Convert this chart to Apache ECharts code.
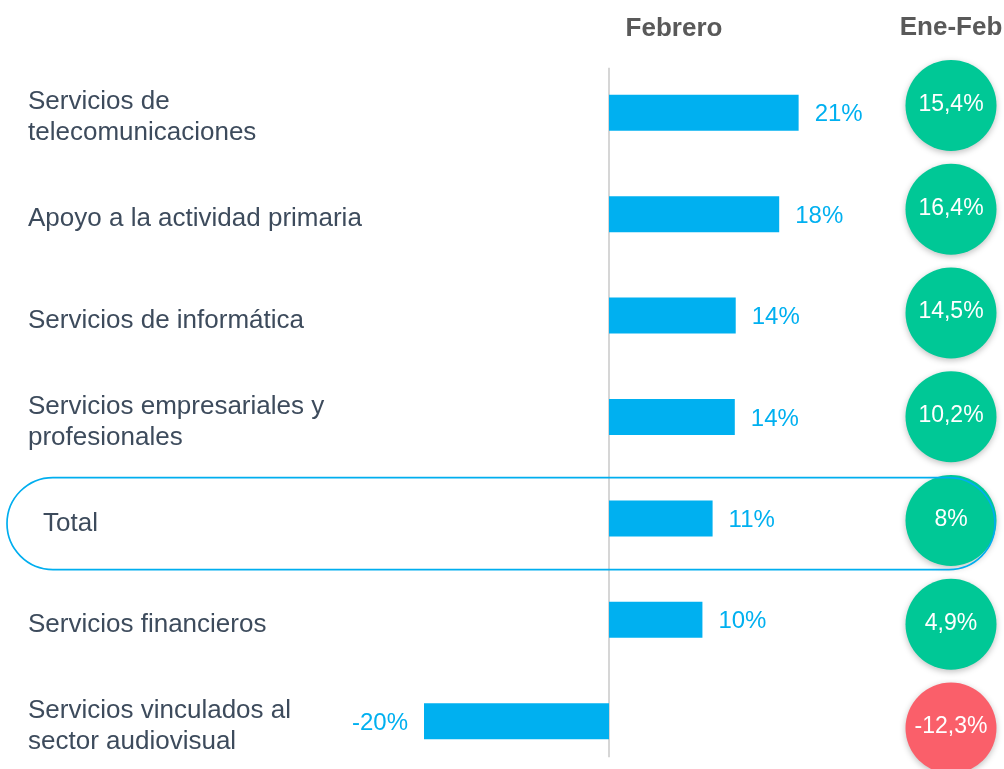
<!DOCTYPE html>
<html>
<head>
<meta charset="utf-8">
<script src="https://cdn.jsdelivr.net/npm/echarts@6/dist/echarts.min.js"></script>
<style>
  html, body { margin: 0; padding: 0; background: #fff; }
  #chart { width: 1004px; height: 769px; }
</style>
</head>
<body>
<div id="chart"></div>
<script>
// categorias (de arriba a abajo)
const categories = [
  'Servicios de\ntelecomunicaciones',
  'Apoyo a la actividad primaria',
  'Servicios de informática',
  'Servicios empresariales y\nprofesionales',
  'Total',
  'Servicios financieros',
  'Servicios vinculados al\nsector audiovisual'
];
// variación febrero (%)
const febrero = [20.5, 18.4, 13.7, 13.6, 11.2, 10.1, -20.0];
// variación acumulada ene-feb (%)
const eneFeb = [15.4, 16.4, 14.5, 10.2, 8, 4.9, -12.3];

const headerFeb = 'Febrero';
const headerAcum = 'Ene-Feb';

const FONT = 'Liberation Sans, Arial, sans-serif';

const chart = echarts.init(document.getElementById('chart'));

const option = {
  animation: false,
  title: {
    text: headerFeb,
    left: 669,
    top: 11,
    textAlign: 'center',
    textStyle: {
      color: '#595959',
      fontSize: 26,
      fontWeight: 'bold',
      fontFamily: FONT
    }
  },
  grid: [
    { left: 331.5, right: 117.5, top: 62, bottom: -3, outerBoundsMode: 'none' },
    { left: 905, right: 7, top: 53.5, bottom: -11, outerBoundsMode: 'none' }
  ],
  xAxis: [
    {
      gridIndex: 0,
      type: 'value',
      min: -30,
      max: 30,
      show: false
    },
    {
      gridIndex: 1,
      type: 'category',
      position: 'top',
      data: [headerAcum],
      axisLine: { show: false },
      axisTick: { show: false },
      axisLabel: {
        margin: 13,
        color: '#595959',
        fontSize: 26,
        fontWeight: 'bold',
        fontFamily: FONT
      }
    }
  ],
  yAxis: [
    {
      gridIndex: 0,
      type: 'category',
      inverse: true,
      data: categories,
      axisTick: { show: false },
      axisLine: { show: false },
      axisLabel: {
        align: 'left',
        margin: 303.5,
        padding: [10, 0, 0, 0],
        formatter: v => v === 'Total' ? '{t|' + v + '}' : '{a|' + v + '}',
        rich: {
          a: {
            color: '#3d4b5c',
            fontSize: 26,
            lineHeight: 31,
            fontFamily: FONT
          },
          t: {
            color: '#3d4b5c',
            fontSize: 26,
            lineHeight: 31,
            fontFamily: FONT,
            padding: [0, 0, 0, 15]
          }
        }
      }
    },
    {
      gridIndex: 1,
      type: 'category',
      inverse: true,
      data: categories,
      show: false
    }
  ],
  series: [
    {
      type: 'bar',
      xAxisIndex: 0,
      yAxisIndex: 0,
      barWidth: 36,
      itemStyle: { color: '#00b0f0' },
      label: {
        show: true,
        position: 'right',
        distance: 16,
        offset: [0, 2],
        color: '#00b0f0',
        fontSize: 24,
        fontFamily: FONT,
        formatter: p => Math.round(p.value) + '%'
      },
      data: febrero.map(v => v < 0 ? { value: v, label: { position: 'left' } } : v)
    },
    {
      type: 'scatter',
      xAxisIndex: 1,
      yAxisIndex: 1,
      symbolSize: 91,
      z: 3,
      itemStyle: {
        color: p => p.value[2] < 0 ? '#fa5f6a' : '#00c896',
        shadowBlur: 6,
        shadowOffsetY: 2,
        shadowColor: 'rgba(0,0,0,0.25)',
        opacity: 1
      },
      label: {
        show: true,
        position: 'inside',
        offset: [0, -1],
        color: '#fff',
        fontSize: 23,
        fontFamily: FONT,
        formatter: p => String(p.value[2]).replace('.', ',') + '%'
      },
      data: eneFeb.map((v, i) => [0, i, v])
    }
  ]
};

chart.setOption(option);

// eje del cero y contorno redondeado de la fila "Total"
const x0 = chart.convertToPixel({ xAxisIndex: 0 }, 0);
const yFirst = chart.convertToPixel({ yAxisIndex: 0 }, categories[0]);
const yLast = chart.convertToPixel({ yAxisIndex: 0 }, categories[categories.length - 1]);
const totalIdx = categories.indexOf('Total');
const c = chart.convertToPixel({ seriesIndex: 1 }, [0, totalIdx]);
const r = 46;
chart.setOption({
  graphic: [
    {
      type: 'line',
      z: 1,
      shape: { x1: x0, y1: yFirst - 45, x2: x0, y2: yLast + 36 },
      style: { stroke: '#c8c8c8', lineWidth: 1.5 }
    },
    {
      type: 'rect',
      z: 10,
      shape: { x: 7, y: c[1] - r + 3, width: c[0] + r - 2 - 7, height: 2 * r, r: r },
      style: { fill: 'none', stroke: '#00aeef', lineWidth: 1.7 }
    }
  ]
});
</script>
</body>
</html>
